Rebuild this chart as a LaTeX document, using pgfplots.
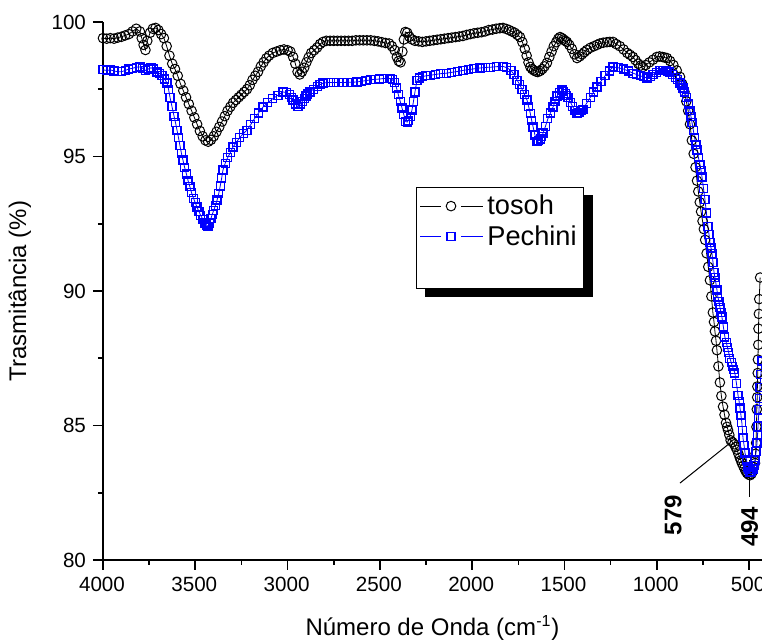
\documentclass[border=0pt]{standalone}
\usepackage{fontspec}
\setmainfont{Liberation Sans}
\usepackage{pgfplots}
\pgfplotsset{compat=1.18}
\begin{document}
\begin{tikzpicture}
\begin{axis}[
  at={(0pt,0pt)}, anchor=south west,
  scale only axis, width=329.5pt, height=269pt,
  x dir=reverse, xmin=430, xmax=4000, ymin=80, ymax=100,
  axis x line=bottom, axis y line=left,
  axis line style={-, line width=1.1pt},
  xtick={500,1000,...,4000}, ytick={80,85,...,100},
  minor x tick num=1, minor y tick num=1,
  tick align=outside, major tick length=5pt, minor tick length=2.5pt,
  tick style={line width=0.8pt, black},
  /pgf/number format/assume math mode=true,
  /pgf/number format/1000 sep={},
  ticklabel style={font=\fontsize{10.3}{12}\selectfont},
  xticklabel style={xshift=-0.5pt},
  xlabel={Número de Onda (cm\textsuperscript{-1})},
  ylabel={Trasmitância (\%)},
  label style={font=\fontsize{12}{14}\selectfont},
  xlabel style={at={(axis description cs:0.5,-0.126)}, anchor=center},
  ylabel style={at={(axis description cs:-0.126,0.5)}, anchor=center},
  legend style={name=leg, at={(0.475,0.693)}, anchor=north west, draw=black, line width=0.6pt,
    fill=white, font=\fontsize{13.6}{16}\selectfont, inner sep=1.5pt},
  legend cell align=left,
  legend image code/.code={
    \draw[#1,mark=none] (0pt,0pt) -- (10.5pt,0pt);
    \draw[#1,mark=none] (20.5pt,0pt) -- (31.5pt,0pt);
    \draw[#1,only marks] plot coordinates {(15.5pt,0pt)};
  },
]
\addplot[black, line width=0.4pt, mark=o, mark size=2.4pt, mark options={line width=0.5pt}] table {
x y
4000 99.40
3980 99.38
3960 99.40
3940 99.38
3920 99.42
3900 99.45
3880 99.50
3860 99.55
3840 99.65
3820 99.75
3800 99.65
3790 99.40
3780 99.15
3770 98.96
3760 99.30
3745 99.60
3730 99.75
3715 99.78
3700 99.70
3685 99.55
3670 99.40
3655 99.10
3640 98.75
3625 98.45
3610 98.25
3595 98.00
3580 97.70
3565 97.45
3550 97.20
3535 96.95
3520 96.70
3505 96.45
3490 96.20
3475 95.95
3460 95.75
3445 95.60
3430 95.55
3415 95.62
3400 95.75
3385 95.92
3370 96.10
3355 96.30
3340 96.50
3325 96.70
3310 96.85
3295 97.00
3280 97.10
3265 97.20
3250 97.30
3235 97.40
3220 97.50
3205 97.65
3190 97.85
3175 98.00
3160 98.15
3145 98.35
3130 98.50
3115 98.65
3100 98.75
3080 98.85
3060 98.90
3040 98.95
3020 98.98
3000 98.95
2985 98.90
2970 98.70
2958 98.45
2946 98.15
2934 98.05
2922 98.15
2910 98.30
2898 98.50
2886 98.68
2872 98.85
2856 98.95
2840 99.05
2824 99.18
2808 99.26
2790 99.30
2770 99.30
2750 99.30
2730 99.30
2710 99.30
2690 99.30
2670 99.30
2650 99.30
2630 99.32
2610 99.32
2590 99.32
2570 99.32
2550 99.32
2530 99.30
2510 99.28
2490 99.25
2470 99.22
2450 99.20
2435 99.10
2420 98.95
2408 98.70
2398 98.55
2388 98.50
2378 98.90
2370 99.35
2362 99.63
2352 99.60
2340 99.45
2325 99.35
2310 99.30
2290 99.28
2270 99.26
2250 99.28
2230 99.30
2210 99.32
2190 99.34
2170 99.36
2150 99.38
2130 99.40
2110 99.42
2090 99.44
2070 99.46
2050 99.48
2030 99.52
2010 99.55
1990 99.58
1970 99.60
1950 99.62
1930 99.65
1910 99.70
1890 99.72
1870 99.75
1850 99.77
1833 99.78
1815 99.74
1800 99.70
1785 99.65
1770 99.60
1755 99.52
1741 99.44
1728 99.25
1715 99.00
1705 98.75
1695 98.50
1685 98.33
1675 98.25
1665 98.20
1655 98.16
1645 98.14
1632 98.18
1620 98.25
1608 98.35
1595 98.48
1582 98.70
1570 98.90
1558 99.10
1545 99.25
1534 99.38
1524 99.44
1514 99.40
1505 99.35
1496 99.30
1487 99.26
1474 99.15
1460 99.00
1446 98.80
1432 98.66
1418 98.72
1405 98.80
1392 98.88
1378 98.96
1360 99.04
1340 99.10
1324 99.15
1308 99.20
1290 99.23
1270 99.25
1255 99.26
1237 99.26
1220 99.18
1200 99.10
1180 98.98
1160 98.85
1145 98.78
1129 98.70
1115 98.58
1100 98.45
1088 98.38
1075 98.33
1060 98.40
1040 98.50
1020 98.60
1000 98.70
985 98.72
970 98.70
958 98.68
945 98.66
928 98.55
910 98.40
892 98.20
874 97.96
862 97.70
850 97.40
840 97.05
830 96.70
820 96.20
810 95.60
800 95.10
790 94.60
782 94.10
775 93.70
767 93.30
760 92.95
752 92.60
745 92.30
738 91.90
730 91.40
721 90.90
712 90.40
704 89.80
696 89.20
690 88.85
685 88.50
679 88.15
674 87.80
666 87.20
658 86.60
650 86.10
641 85.70
633 85.40
625 85.10
619 84.95
614 84.83
607 84.65
600 84.45
590 84.38
580 84.30
573 84.20
566 84.10
558 83.95
550 83.80
544 83.70
539 83.60
532 83.50
525 83.40
518 83.30
511 83.23
503 83.18
495 83.15
487 83.20
480 83.30
474 83.45
468 83.60
465 83.95
462 84.35
460 84.95
458 85.60
456 86.05
455 86.45
453 86.95
452 87.45
450 88.00
449 88.60
447 89.15
445 89.70
440 90.50
};
\addlegendentry{tosoh}
\addplot[blue, line width=0.4pt, mark=square, mark size=2pt, mark options={line width=0.6pt}] table {
x y
4000 98.22
3980 98.20
3960 98.22
3940 98.18
3920 98.15
3900 98.15
3880 98.20
3860 98.25
3840 98.28
3820 98.32
3800 98.33
3785 98.28
3770 98.20
3755 98.25
3740 98.30
3725 98.25
3707 98.14
3693 98.08
3680 98.00
3666 97.88
3653 97.73
3645 97.50
3637 97.20
3626 96.85
3615 96.50
3607 96.25
3599 95.98
3591 95.70
3583 95.40
3575 95.12
3567 94.87
3558 94.60
3548 94.35
3539 94.10
3529 93.87
3520 93.65
3510 93.45
3500 93.28
3491 93.12
3480 92.95
3470 92.80
3458 92.65
3447 92.53
3439 92.45
3431 92.40
3423 92.52
3415 92.70
3408 92.85
3400 93.00
3391 93.18
3382 93.38
3373 93.62
3365 93.90
3357 94.20
3350 94.50
3338 94.75
3325 94.95
3310 95.15
3296 95.35
3278 95.52
3260 95.70
3240 95.85
3220 95.98
3200 96.18
3180 96.40
3157 96.62
3133 96.84
3107 97.00
3080 97.15
3052 97.28
3025 97.40
3008 97.38
2990 97.30
2980 97.20
2971 97.10
2958 96.95
2944 96.85
2932 96.95
2920 97.05
2910 97.15
2900 97.25
2890 97.32
2879 97.40
2860 97.50
2840 97.60
2824 97.67
2808 97.73
2780 97.75
2750 97.75
2725 97.75
2700 97.75
2675 97.76
2650 97.76
2624 97.77
2600 97.80
2575 97.82
2550 97.85
2525 97.87
2500 97.88
2480 97.90
2460 97.90
2445 97.90
2432 97.85
2420 97.75
2410 97.55
2400 97.30
2390 97.05
2380 96.80
2370 96.55
2360 96.30
2352 96.28
2345 96.35
2335 96.50
2326 96.73
2318 97.05
2310 97.40
2299 97.84
2285 97.92
2270 97.97
2250 98.00
2225 98.02
2200 98.05
2170 98.08
2137 98.10
2110 98.13
2080 98.16
2050 98.20
2020 98.23
1990 98.26
1958 98.29
1930 98.31
1900 98.32
1867 98.34
1833 98.35
1812 98.30
1790 98.20
1773 98.05
1757 97.84
1743 97.68
1730 97.50
1716 97.30
1703 97.10
1694 96.85
1685 96.60
1678 96.35
1670 96.10
1660 95.80
1649 95.55
1640 95.58
1630 95.65
1623 95.75
1616 95.87
1603 96.12
1590 96.40
1576 96.62
1562 96.84
1551 97.05
1540 97.25
1527 97.38
1513 97.47
1504 97.42
1495 97.35
1488 97.28
1481 97.20
1468 97.02
1455 96.85
1443 96.70
1432 96.60
1421 96.65
1410 96.70
1400 96.75
1380 96.98
1360 97.20
1342 97.40
1324 97.58
1302 97.80
1280 98.00
1258 98.18
1237 98.33
1210 98.30
1180 98.25
1155 98.18
1129 98.10
1110 98.05
1090 98.00
1072 97.96
1053 97.92
1036 97.98
1020 98.05
1000 98.12
983 98.20
966 98.21
950 98.20
940 98.17
929 98.14
915 98.05
900 97.95
887 97.85
874 97.73
866 97.65
858 97.55
848 97.40
837 97.20
828 96.95
820 96.70
815 96.50
809 96.25
802 95.98
795 95.70
788 95.45
782 95.24
774 94.95
766 94.70
760 94.47
755 94.24
747 93.82
739 93.40
731 92.90
723 92.40
717 92.10
712 91.80
706 91.60
701 91.40
695 91.05
690 90.70
685 90.50
680 90.30
674 90.04
669 89.78
663 89.60
658 89.40
652 89.20
647 89.03
639 88.66
631 88.29
624 88.10
617 87.90
610 87.70
604 87.50
597 87.35
590 87.20
583 87.07
577 86.95
568 86.55
560 86.13
554 85.90
549 85.65
544 85.38
539 85.10
536 84.82
533 84.54
527 84.26
522 83.98
514 83.72
506 83.46
500 83.35
495 83.27
487 83.28
479 83.35
473 83.50
468 83.70
462 84.02
457 84.35
454 84.65
452 84.95
449 85.28
446 85.60
443 86.00
441 86.40
436 86.90
430 87.40
};
\addlegendentry{Pechini}
\addlegendimage{empty legend}
\addlegendentry{\strut}
\draw[line width=0.5pt] (axis cs:603,84.35) -- (axis cs:874,82.86);
\draw[line width=0.5pt] (axis cs:500,83.72) -- (axis cs:500,82.34);
\coordinate (t579) at (axis cs:912,81.67);
\coordinate (t494) at (axis cs:497,81.23);
\end{axis}
\fill[black] ([yshift=-4pt]leg.north east) rectangle ([xshift=4.5pt,yshift=-4pt]leg.south east);
\fill[black] ([xshift=4.5pt]leg.south west) rectangle ([xshift=4.5pt,yshift=-4pt]leg.south east);
\node[rotate=90, font=\bfseries\fontsize{12}{14}\selectfont] at (t579) {579};
\node[rotate=90, font=\bfseries\fontsize{12}{14}\selectfont] at (t494) {494};
\pgfresetboundingbox
\path[use as bounding box] (-51.5pt,-41.5pt) rectangle (329.5pt,280pt);
\end{tikzpicture}
\end{document}
